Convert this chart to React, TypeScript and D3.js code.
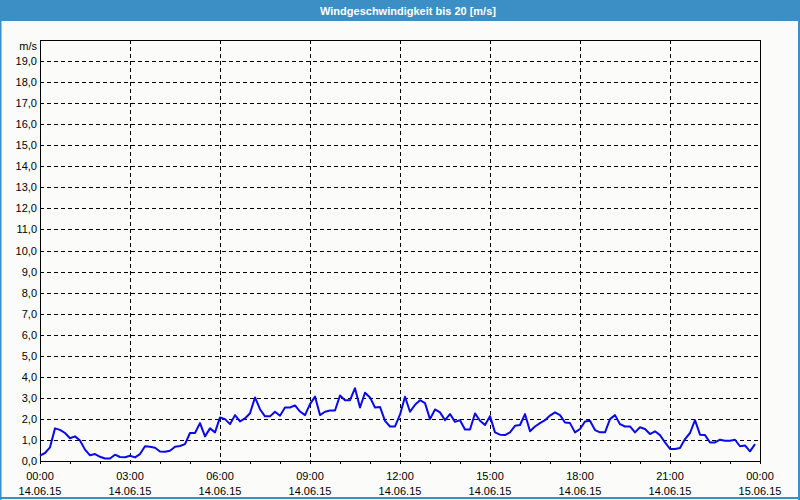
import React from "react";
import * as d3 from "d3";

const title = "Windgeschwindigkeit bis 20 [m/s]";
const yUnit = "m/s";
const startTime = new Date(2015, 5, 14, 0, 0);
const endTime = new Date(2015, 5, 15, 0, 0);
const sampleMinutes = 10;
const yTicks = [0, 1, 2, 3, 4, 5, 6, 7, 8, 9, 10, 11, 12, 13, 14, 15, 16, 17, 18, 19];
const xLabelTimes = ["00:00", "03:00", "06:00", "09:00", "12:00", "15:00", "18:00", "21:00", "00:00"];
const xLabelDates = ["14.06.15", "14.06.15", "14.06.15", "14.06.15", "14.06.15", "14.06.15", "14.06.15", "14.06.15", "15.06.15"];

const windSpeed = [
  0.25, 0.38, 0.65, 1.55, 1.48, 1.33, 1.08, 1.17, 0.97, 0.54,
  0.27, 0.33, 0.2, 0.12, 0.12, 0.3, 0.19, 0.18, 0.25, 0.17,
  0.33, 0.7, 0.68, 0.63, 0.45, 0.44, 0.49, 0.68, 0.71, 0.8,
  1.33, 1.33, 1.8, 1.17, 1.55, 1.36, 2.07, 1.99, 1.75, 2.18,
  1.88, 2.02, 2.27, 3.02, 2.46, 2.12, 2.12, 2.34, 2.15, 2.54,
  2.54, 2.64, 2.35, 2.18, 2.7, 3.06, 2.18, 2.34, 2.4, 2.4,
  3.11, 2.89, 2.89, 3.46, 2.54, 3.24, 3.02, 2.54, 2.57, 1.91,
  1.64, 1.64, 2.2, 3.05, 2.34, 2.67, 2.89, 2.75, 1.99, 2.45,
  2.31, 1.94, 2.23, 1.86, 1.94, 1.5, 1.5, 2.26, 1.91, 1.71,
  2.13, 1.36, 1.25, 1.23, 1.36, 1.67, 1.71, 2.23, 1.41, 1.64,
  1.8, 1.94, 2.16, 2.31, 2.18, 1.83, 1.8, 1.36, 1.52, 1.88,
  1.91, 1.47, 1.36, 1.36, 1.99, 2.18, 1.75, 1.64, 1.64, 1.36,
  1.6, 1.52, 1.28, 1.41, 1.23, 0.88, 0.57, 0.57, 0.62, 1.04,
  1.33, 1.94, 1.25, 1.23, 0.88, 0.88, 1.01, 0.96, 0.96, 1.01,
  0.7, 0.74, 0.46, 0.8,
];

const W = 800;
const H = 500;
const left = 40;
const right = 760;
const top = 40;
const bottom = 461;
const font = "'Liberation Sans', Arial, sans-serif";

export default function App() {
  const x = d3.scaleTime().domain([startTime, endTime]).range([left, right]);
  const y = d3.scaleLinear().domain([0, 20]).range([bottom, top]);
  const data = windSpeed.map((v, i) => ({
    t: new Date(startTime.getTime() + i * sampleMinutes * 60000),
    v,
  }));
  const line = d3
    .line<{ t: Date; v: number }>()
    .x((d) => x(d.t))
    .y((d) => y(d.v));
  const hourTicks = x.ticks(d3.timeHour.every(1)!);
  const gridTicks = x.ticks(d3.timeHour.every(3)!);
  const fmt = (v: number) => v.toFixed(1).replace(".", ",");

  return (
    <div style={{ position: "fixed", left: 0, top: 0, width: W, height: H }}>
      <svg width={W} height={H} style={{ display: "block" }}>
        <rect x={0} y={0} width={W} height={H} fill="#fbfcfa" />
        <rect x={0} y={0} width={W} height={21} fill="#3c8fc5" />
        <text
          x={408}
          y={11}
          textAnchor="middle"
          dominantBaseline="central"
          fill="#ffffff"
          fontFamily={font}
          fontWeight="bold"
          fontSize={11}
        >
          {title}
        </text>
        {/* outer border */}
        <line x1={0.75} x2={0.75} y1={0} y2={H} stroke="#3c8fc5" strokeWidth={1.5} />
        <line x1={W - 1} x2={W - 1} y1={0} y2={H} stroke="#3c8fc5" strokeWidth={2} />
        <line x1={0} x2={W} y1={H - 2} y2={H - 2} stroke="#3c8fc5" strokeWidth={2} />

        {/* horizontal grid */}
        {yTicks.filter((t) => t > 0).map((t) => (
          <line
            key={"h" + t}
            x1={left}
            x2={right}
            y1={Math.round(y(t)) + 0.5}
            y2={Math.round(y(t)) + 0.5}
            stroke="#000"
            strokeWidth={1}
            strokeDasharray="4,3"
          />
        ))}
        {/* vertical grid */}
        {gridTicks.slice(1, -1).map((t, i) => (
          <line
            key={"v" + i}
            x1={Math.round(x(t)) + 0.5}
            x2={Math.round(x(t)) + 0.5}
            y1={top}
            y2={bottom}
            stroke="#000"
            strokeWidth={1}
            strokeDasharray="4,3"
          />
        ))}
        {/* hour ticks */}
        {hourTicks.map((t, i) => (
          <line
            key={"t" + i}
            x1={Math.round(x(t)) + 0.5}
            x2={Math.round(x(t)) + 0.5}
            y1={bottom}
            y2={bottom + 3}
            stroke="#000"
            strokeWidth={1}
          />
        ))}
        {/* frame */}
        <rect
          x={left + 0.5}
          y={top + 0.5}
          width={right - left}
          height={bottom - top}
          fill="none"
          stroke="#000"
          strokeWidth={1}
        />
        {/* y labels */}
        {yTicks.map((t) => (
          <text
            key={"yl" + t}
            x={37}
            y={y(t)}
            textAnchor="end"
            dominantBaseline="central"
            fontFamily={font}
            fontSize={11}
            fill="#000"
          >
            {fmt(t)}
          </text>
        ))}
        <text
          x={37}
          y={46}
          textAnchor="end"
          dominantBaseline="central"
          fontFamily={font}
          fontSize={11}
          fill="#000"
        >
          {yUnit}
        </text>
        {/* x labels */}
        {gridTicks.map((t, i) => (
          <g key={"xl" + i}>
            <text
              x={x(t)}
              y={476}
              textAnchor="middle"
              dominantBaseline="central"
              fontFamily={font}
              fontSize={11}
              fill="#000"
            >
              {xLabelTimes[i]}
            </text>
            <text
              x={x(t)}
              y={491}
              textAnchor="middle"
              dominantBaseline="central"
              fontFamily={font}
              fontSize={11}
              fill="#000"
            >
              {xLabelDates[i]}
            </text>
          </g>
        ))}
        {/* data line */}
        <path
          d={line(data) || ""}
          fill="none"
          stroke="#0a0ae6"
          strokeWidth={2}
          strokeLinejoin="round"
        />
      </svg>
    </div>
  );
}
